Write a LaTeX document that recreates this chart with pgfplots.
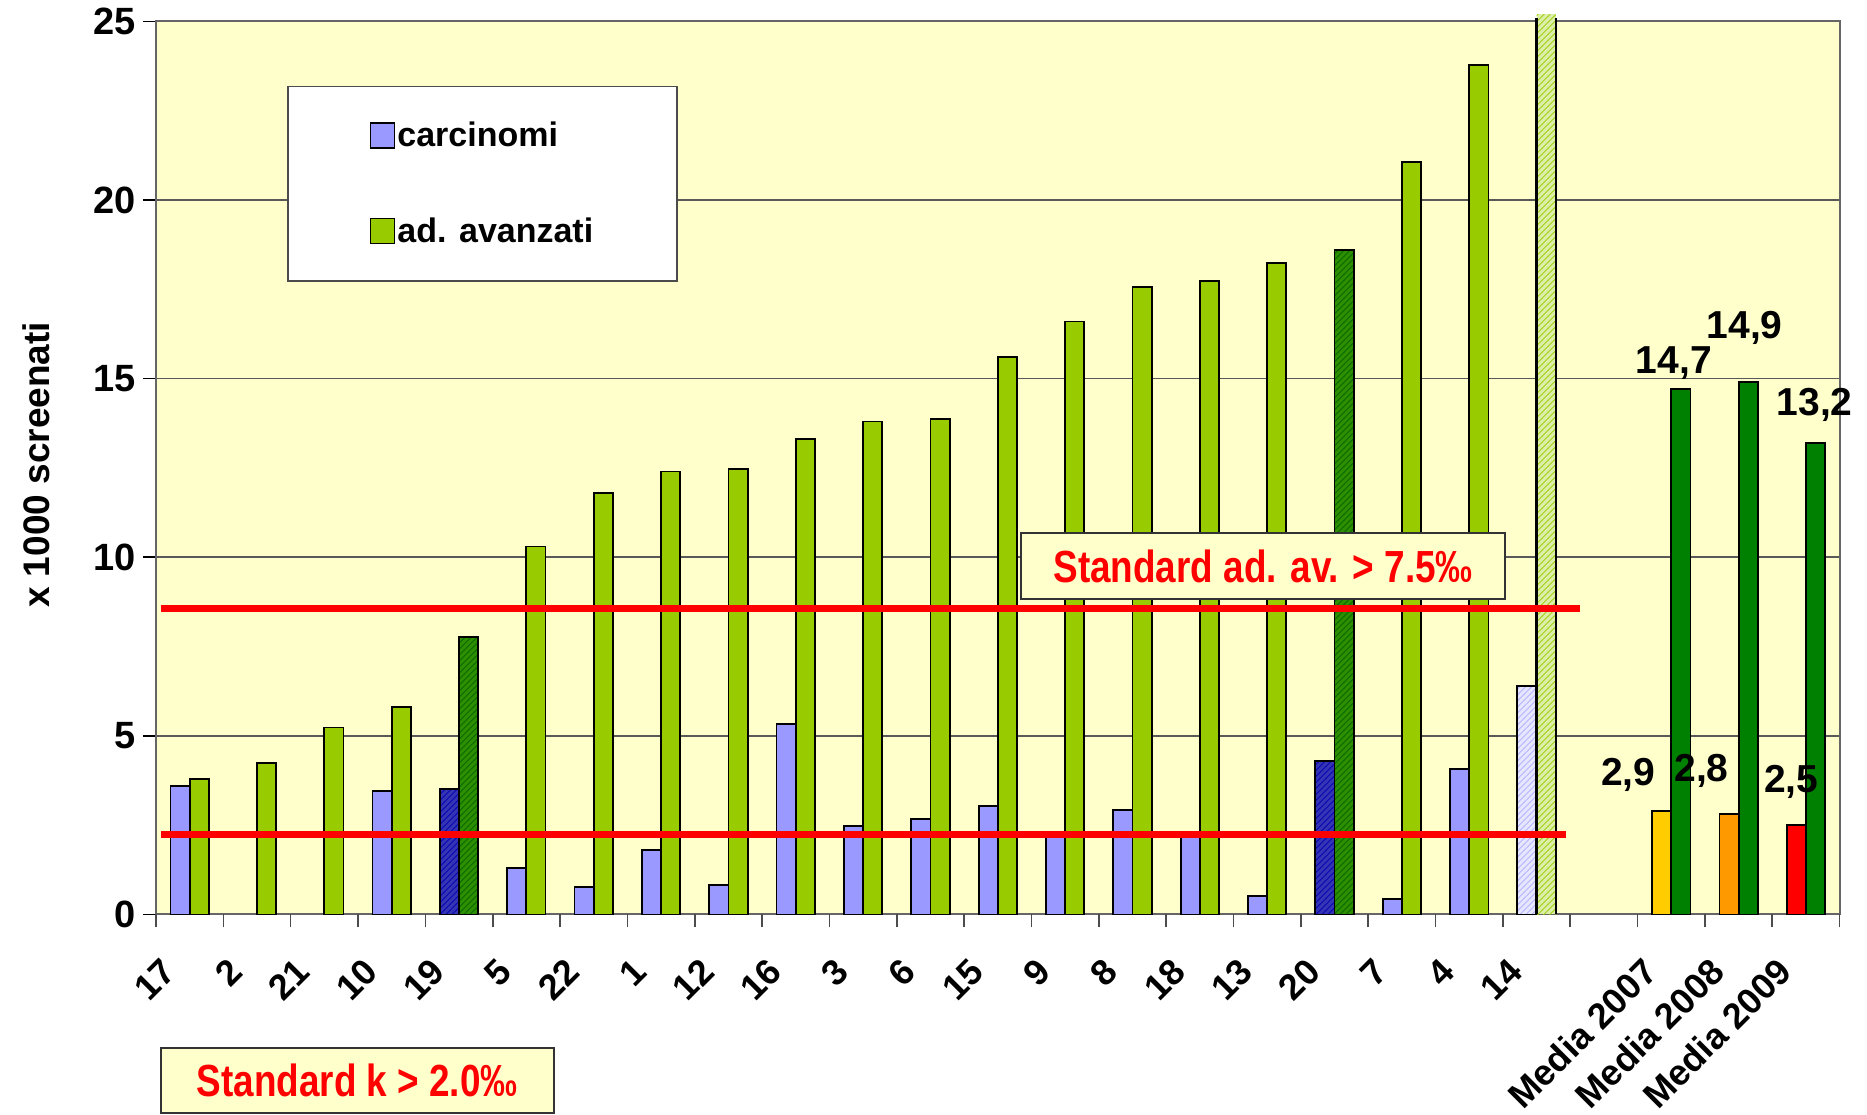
\documentclass[border=0pt]{standalone}
\usepackage{fontspec}
\setmainfont{Liberation Sans}
\newfontfamily\narrowfont[FakeStretch=0.82]{Liberation Sans}
\usepackage{pgfplots}
\pgfplotsset{compat=1.18}
\usetikzlibrary{patterns}
\definecolor{bgyellow}{HTML}{FFFFCC}
\definecolor{carc}{HTML}{9999FF}
\definecolor{adv}{HTML}{99CC00}
\definecolor{darkgreen}{HTML}{008000}
\definecolor{medyellow}{HTML}{FFCC00}
\definecolor{medorange}{HTML}{FF9900}
\definecolor{hatchblue}{HTML}{3434B4}
\definecolor{hatchgreen}{HTML}{2E8E00}
\definecolor{lightblue}{HTML}{E6E6FF}
\definecolor{lightgreen}{HTML}{DCEEA8}
\begin{document}
\begin{tikzpicture}
\pgfplotsset{
  cbar/.style={ybar, bar width=0.285, bar shift=-0.1425, draw=black, line width=0.9pt},
  abar/.style={ybar, bar width=0.285, bar shift=0.1425, draw=black, line width=0.9pt},
}
\begin{axis}[
  scale only axis, width=841.8pt, height=446.5pt,
  xmin=-0.5, xmax=24.5, ymin=0, ymax=25,
  axis background/.style={fill=bgyellow},
  axis line style={draw=black!60, line width=1pt},
  clip=false,
  tick pos=left,
  tick align=outside,
  ytick={0,5,...,25},
  major tick length=6.5pt,
  ymajorgrids, grid style={draw=black!65, line width=0.8pt},
  ytick style={draw=black, line width=0.8pt},
  yticklabel style={font=\fontsize{19}{23}\selectfont\bfseries, /pgf/number format/assume math mode=true},
  xtick={0,...,24},
  xticklabels={17,2,21,10,19,5,22,1,12,16,3,6,15,9,8,18,13,20,7,4,14,{},Media 2007,Media 2008,Media 2009},
  major x tick style={draw=none},
  xticklabel style={font=\fontsize{18}{22}\selectfont\bfseries, xshift=-9pt, yshift=-17.5pt, rotate=45, anchor=east, inner sep=2pt},
  extra x ticks={-0.5,0.5,...,24.5},
  extra x tick labels={},
  extra x tick style={grid=none, major x tick style={draw=black!70, line width=0.8pt}},
  legend style={at={(rel axis cs:0.0778,0.9278)}, anchor=north west, draw=black!70, line width=0.8pt, fill=white,
     font=\fontsize{17}{20}\selectfont\bfseries, inner xsep=41pt, inner ysep=16.8pt, row sep=31.8pt,
     nodes={inner sep=1pt}},
  legend cell align=left,
  legend image code/.code={\draw[#1, line width=0.8pt] (0pt,-6pt) rectangle (12pt,6.5pt);},
]
% carcinomi
\addplot[cbar, fill=carc] coordinates {(0,3.6) (3,3.45) (5,1.3) (6,0.77) (7,1.8) (8,0.83) (9,5.33) (10,2.47) (11,2.67) (12,3.03) (13,2.25) (14,2.93) (15,2.25) (16,0.52) (18,0.43) (19,4.07)};
\addlegendentry{carcinomi}
% adenomi avanzati
\addplot[abar, fill=adv] coordinates {(0,3.8) (1,4.23) (2,5.23) (3,5.8) (5,10.3) (6,11.8) (7,12.4) (8,12.47) (9,13.3) (10,13.8) (11,13.87) (12,15.6) (13,16.6) (14,17.57) (15,17.73) (16,18.23) (18,21.07) (19,23.77)};
\addlegendentry{ad. avanzati}
% hatched (dark)
\addplot[cbar, fill=hatchblue, postaction={pattern=north east lines, pattern color=blue!70!black}, forget plot] coordinates {(4,3.5) (17,4.3)};
\addplot[abar, fill=hatchgreen, postaction={pattern=north east lines, pattern color=green!40!black}, forget plot] coordinates {(4,7.77) (17,18.6)};
% hatched (light)
\addplot[cbar, fill=lightblue, postaction={pattern=north east lines, pattern color=carc!80}, forget plot] coordinates {(20,6.4)};
\addplot[abar, draw=none, fill=lightgreen, postaction={pattern=north east lines, pattern color=adv}, forget plot] coordinates {(20,25.2)};
\addplot[sharp plot, draw=black, line width=1.2pt, forget plot] coordinates {(20.0,0) (20.0,25.1)};
\addplot[sharp plot, draw=black, line width=1.2pt, forget plot] coordinates {(20.285,0) (20.285,25.1)};
% medie
\addplot[cbar, fill=medyellow, forget plot] coordinates {(22,2.9)};
\addplot[cbar, fill=medorange, forget plot] coordinates {(23,2.8)};
\addplot[cbar, fill=red, forget plot] coordinates {(24,2.5)};
\addplot[abar, fill=darkgreen, forget plot] coordinates {(22,14.7) (23,14.9) (24,13.2)};
% standard lines
\addplot[sharp plot, red, line width=3.5pt, forget plot] coordinates {(-0.43,8.57) (20.65,8.57)};
\addplot[sharp plot, red, line width=3.5pt, forget plot] coordinates {(-0.43,2.23) (20.43,2.23)};
% value labels
\node[font=\fontsize{19.5}{23}\selectfont\bfseries] at (axis cs:22.04,15.43) {14,7};
\node[font=\fontsize{19.5}{23}\selectfont\bfseries] at (axis cs:23.09,16.43) {14,9};
\node[font=\fontsize{19.5}{23}\selectfont\bfseries] at (axis cs:24.13,14.27) {13,2};
\node[font=\fontsize{19.5}{23}\selectfont\bfseries] at (axis cs:21.36,3.9) {2,9};
\node[font=\fontsize{19.5}{23}\selectfont\bfseries] at (axis cs:22.45,4.03) {2,8};
\node[font=\fontsize{19.5}{23}\selectfont\bfseries] at (axis cs:23.78,3.7) {2,5};
% standard box
\node[draw=black!80, line width=1pt, fill=bgyellow, minimum width=242pt, minimum height=33pt, inner sep=0pt,
  text=red, font=\narrowfont\bfseries\fontsize{22.5}{26}\selectfont] at (axis cs:15.94,9.75) {Standard ad. av. > 7.5‰};
\coordinate (sw) at (rel axis cs:0,0);
\coordinate (ne) at (rel axis cs:1,1);
\coordinate (lm) at (rel axis cs:0,0.5);
\end{axis}
\node[rotate=90, font=\fontsize{18.5}{22}\selectfont\bfseries] at ([xshift=-60pt,yshift=1.5pt]lm) {x 1000 screenati};
\node[draw=black!80, line width=1pt, fill=bgyellow, minimum width=196.5pt, minimum height=32.7pt, inner sep=0pt,
  text=red, font=\narrowfont\bfseries\fontsize{22.5}{26}\selectfont] at ([xshift=100.6pt,yshift=-83pt]sw) {Standard k > 2.0‰};
\pgfresetboundingbox
\path[use as bounding box] ([xshift=-78pt,yshift=-100pt]sw) rectangle ([xshift=13.7pt,yshift=10.7pt]ne);
\end{tikzpicture}
\end{document}
